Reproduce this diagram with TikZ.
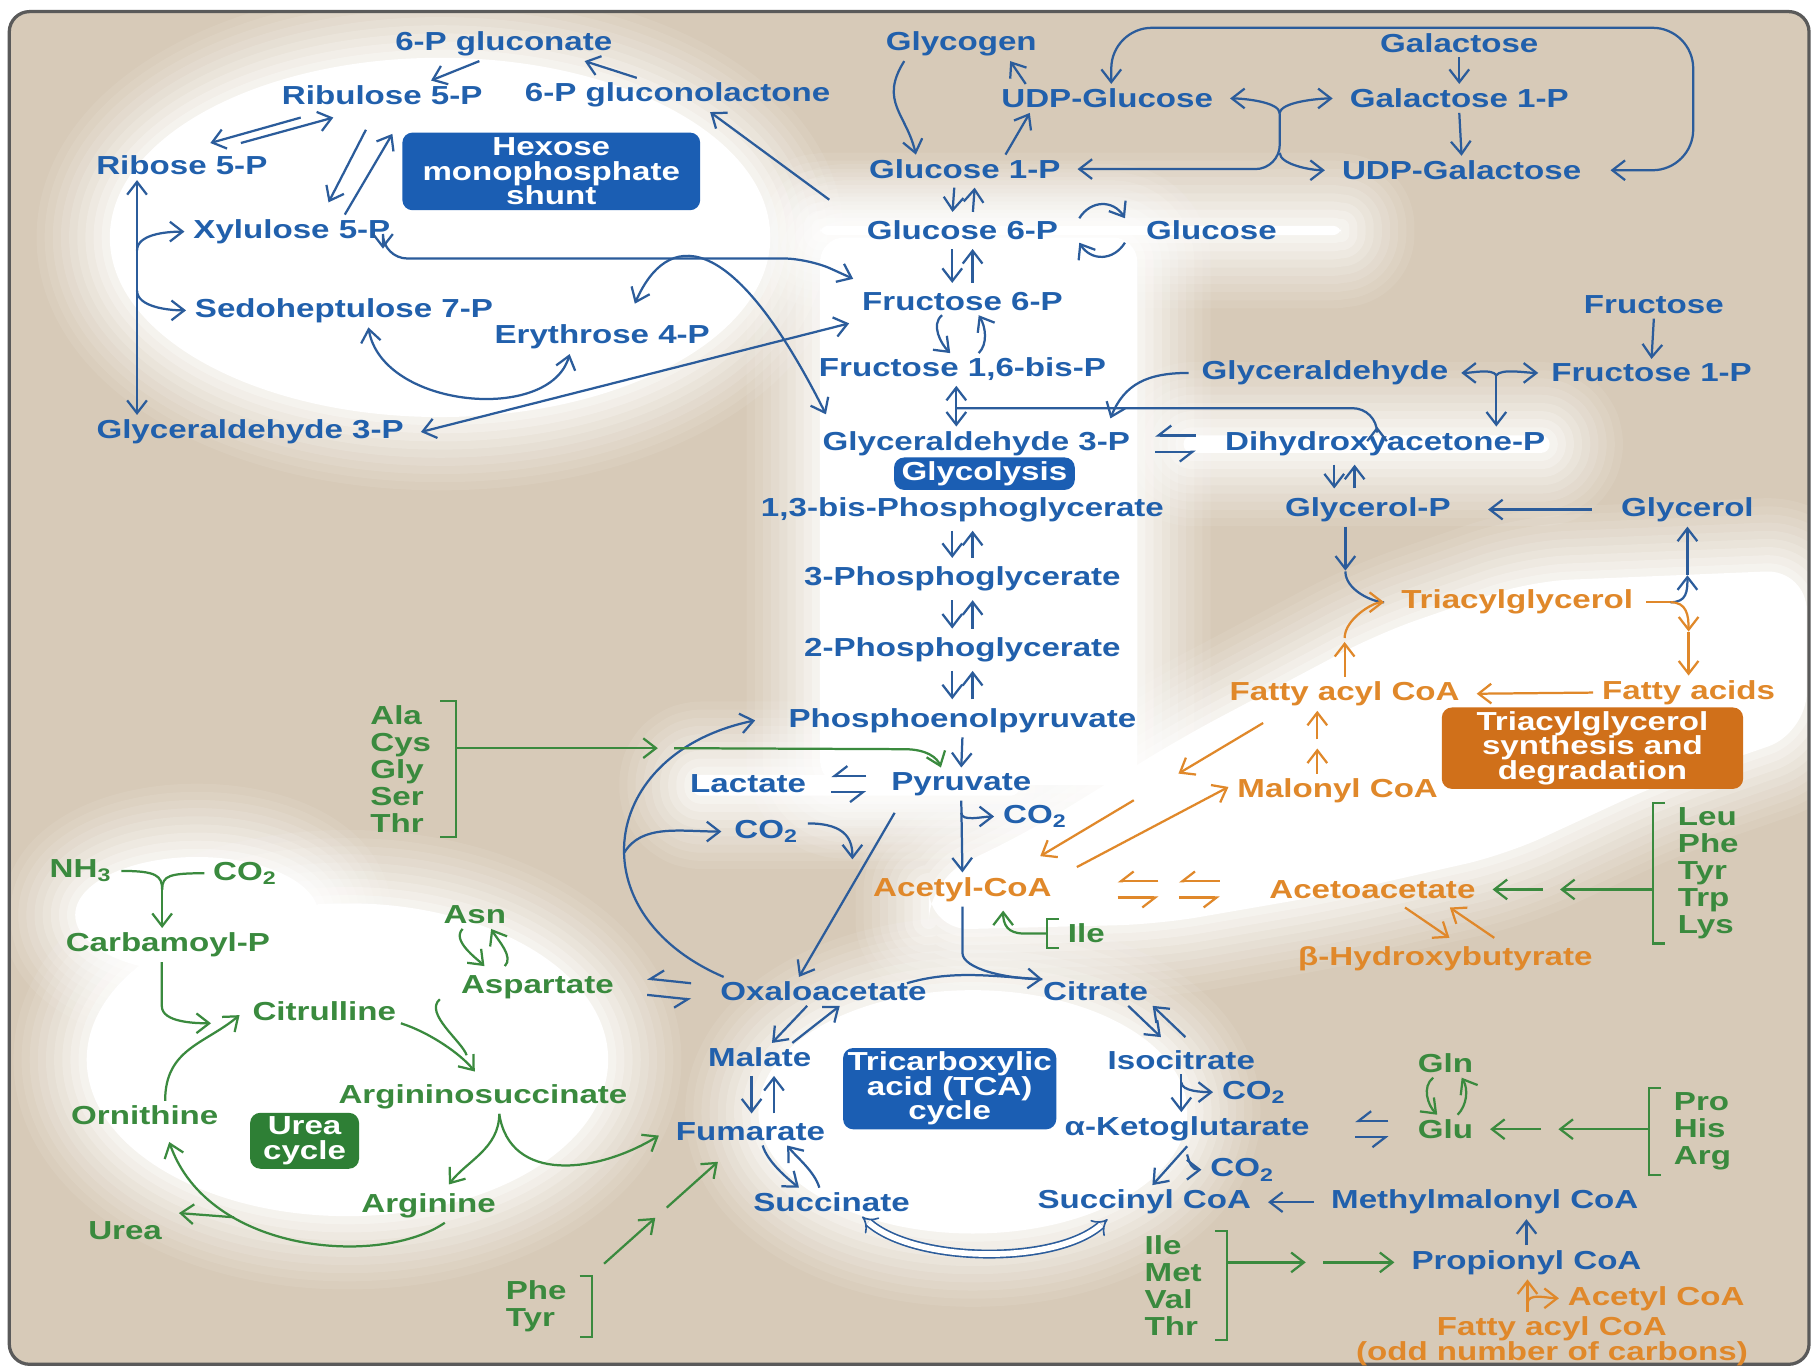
\documentclass[tikz,border=0pt]{standalone}
\usepackage{fontspec}
\usepackage{tikz}
\usetikzlibrary{positioning,arrows.meta,calc}
\newfontfamily\mapfont[FakeStretch=1.27]{Liberation Sans}
\newcommand\mapfnt{\mapfont\bfseries\fontsize{6.4}{6.6}\selectfont}
\newcommand\boxfnt{\mapfont\bfseries\fontsize{6.4}{6.0}\selectfont}
\definecolor{maptan}{HTML}{D7CAB8}
\definecolor{mapframe}{HTML}{5A5A5A}
\definecolor{mapblue}{HTML}{2160AC}
\definecolor{mapline}{HTML}{2B5C9B}
\definecolor{maporange}{HTML}{E0882A}
\definecolor{mapgreen}{HTML}{3A8A3E}
\definecolor{boxblue}{HTML}{1B5EB3}
\definecolor{boxorange}{HTML}{D0701A}
\definecolor{boxgreen}{HTML}{2E7F35}

\begin{document}
\begin{tikzpicture}[x=0.01cm,y=-0.01cm,
  >={Straight Barb[length=1.1mm,width=1.7mm]},
  met/.style={font=\mapfnt,text=mapblue,inner sep=1pt},
  fat/.style={met,text=maporange},
  amino/.style={met,text=mapgreen},
  stack/.style={amino,align=left},
  pathbox/.style={font=\boxfnt,text=white,align=center,rounded corners=2.5pt,inner sep=1pt},
  bline/.style={draw=mapline,line width=.55pt},
  arr/.style={bline,->},
  dbl/.style={bline,<->},
  pair/.style={arr,shorten <=1pt,shorten >=1pt},
  harp/.style={bline,-{Straight Barb[harpoon,swap,length=1.1mm,width=1.7mm]}},
  oline/.style={draw=maporange,line width=.55pt},
  oarr/.style={oline,->},
  oharp/.style={oline,-{Straight Barb[harpoon,swap,length=1.1mm,width=1.7mm]}},
  gline/.style={draw=mapgreen,line width=.55pt},
  garr/.style={gline,->},
  dblarr/.style={draw=mapline,line width=.4pt,double=white,double distance=1.4pt,{Implies}-{Implies}},
  glow/.style={fill=white,
    preaction={draw=white,opacity=.08,line width=36pt,line join=round},
    preaction={draw=white,opacity=.09,line width=32pt,line join=round},
    preaction={draw=white,opacity=.1,line width=28pt,line join=round},
    preaction={draw=white,opacity=.12,line width=24pt,line join=round},
    preaction={draw=white,opacity=.14,line width=20pt,line join=round},
    preaction={draw=white,opacity=.16,line width=16pt,line join=round},
    preaction={draw=white,opacity=.2,line width=12pt,line join=round},
    preaction={draw=white,opacity=.25,line width=8pt,line join=round},
    preaction={draw=white,opacity=.3,line width=4pt,line join=round}}
]
\fill[white] (0,0) rectangle (1568,1182);
\useasboundingbox (0,0) rectangle (1568,1182);
\fill[maptan,rounded corners=5pt] (8,10) rectangle (1562,1178);
\begin{scope}
\clip[rounded corners=5pt] (8,10) rectangle (1562,1178);
\path[glow] (380,205) ellipse (2.85cm and 1.55cm);
\path[glow] (300,915) ellipse (2.25cm and 1.35cm);
\path[glow] (170,790) ellipse (1.05cm and .5cm);
\path[glow] (840,960) ellipse (1.85cm and 1.05cm);
\path[glow,rounded corners=6pt] (708,205) rectangle (982,678);
\path[glow,rounded corners=2pt] (708,195) rectangle (1158,203);
\path[glow,rounded corners=2pt] (1022,376) rectangle (1338,391);
\path[glow,rounded corners=2pt] (598,669) rectangle (880,687);
\path[glow,rounded corners=10pt] (802,760) -- (890,717) -- (1020,637) -- (1190,547) -- (1320,502) -- (1560,492) -- (1560,633) -- (1430,678) -- (1300,738) -- (1150,772) -- (1000,798) -- (802,803) -- cycle;
\end{scope}
\draw[mapframe,line width=.8pt,rounded corners=5pt] (8,10) rectangle (1562,1178);

\node[met] (pgn) at (435,38) {6-P gluconate};
\node[met] (ru5p) at (330,82) {Ribulose 5-P};
\node[met] (pgl) at (585,82) {6-P gluconolactone};
\node[met] (r5p) at (157,143) {Ribose 5-P};
\node[pathbox,fill=boxblue,minimum width=2.57cm,minimum height=.67cm] (hmp) at (476,148) {Hexose\\monophosphate\\shunt};
\node[met] (x5p) at (252,200) {Xylulose 5-P};
\node[met] (s7p) at (297,268) {Sedoheptulose 7-P};
\node[met] (e4p) at (520,291) {Erythrose 4-P};
\node[met] (gapl) at (216,373) {Glyceraldehyde 3-P};

\node[met] (glyg) at (830,38) {Glycogen};
\node[met] (udpglc) at (956,85) {UDP-Glucose};
\node[met] (gal) at (1260,37) {Galactose};
\node[met] (gal1p) at (1260,85) {Galactose 1-P};
\node[met] (g1p) at (833,146) {Glucose 1-P};
\node[met] (udpgal) at (1262,147) {UDP-Galactose};
\node[met] (g6p) at (831,199) {Glucose 6-P};
\node[met] (glc) at (1046,199) {Glucose};
\node[met] (f6p) at (831,260) {Fructose 6-P};
\node[met] (fbp) at (831,319) {Fructose 1,6-bis-P};
\node[met] (glyald) at (1144,322) {Glyceraldehyde};
\node[met] (fru) at (1428,263) {Fructose};
\node[met] (f1p) at (1426,322) {Fructose 1-P};
\node[met] (gap) at (843,383) {Glyceraldehyde 3-P};
\node[met] (dhap) at (1196,383) {Dihydroxyacetone-P};
\node[pathbox,fill=boxblue,minimum width=1.56cm,minimum height=.25cm] (glyc) at (850,409) {Glycolysis};
\node[met] (bpg) at (831,440) {1,3-bis-Phosphoglycerate};
\node[met] (pg3) at (831,500) {3-Phosphoglycerate};
\node[met] (pg2) at (831,561) {2-Phosphoglycerate};
\node[met] (pep) at (831,622) {Phosphoenolpyruvate};
\node[met] (lac) at (646,677) {Lactate};
\node[met] (pyr) at (830,677) {Pyruvate};
\node[met] (coa) at (894,705) {CO\textsubscript{2}};
\node[met] (cob) at (662,718) {CO\textsubscript{2}};
\node[fat] (acoa) at (831,768) {Acetyl-CoA};
\node[met] (g3p) at (1181,440) {Glycerol-P};
\node[met] (glyl) at (1457,440) {Glycerol};
\node[fat] (tag) at (1310,520) {Triacylglycerol};
\node[fat] (facoa) at (1161,599) {Fatty acyl CoA};
\node[fat] (fa) at (1458,598) {Fatty acids};
\node[pathbox,fill=boxorange,minimum width=2.6cm,minimum height=.63cm] (tagbox) at (1375,646) {Triacylglycerol\\synthesis and\\degradation};
\node[fat] (mcoa) at (1155,683) {Malonyl CoA};
\node[fat] (acac) at (1185,768) {Acetoacetate};
\node[fat] (bhb) at (1248,828) {β-Hydroxybutyrate};
\node[stack] (ketaa) at (1475,754) {Leu\\Phe\\Tyr\\Trp\\Lys};
\node[amino] (ile) at (938,806) {Ile};
\node[stack] (glyaa) at (346,664) {Ala\\Cys\\Gly\\Ser\\Thr};

\node[amino] (nh3) at (70,752) {NH\textsubscript{3}};
\node[amino] (coc) at (212,754) {CO\textsubscript{2}};
\node[amino] (cbp) at (145,816) {Carbamoyl-P};
\node[amino] (asn) at (410,790) {Asn};
\node[amino] (asp) at (464,852) {Aspartate};
\node[met] (oaa) at (711,856) {Oxaloacetate};
\node[met] (cit) at (946,856) {Citrate};
\node[amino] (citr) at (280,873) {Citrulline};
\node[met] (mal) at (656,913) {Malate};
\node[pathbox,fill=boxblue,minimum width=1.84cm,minimum height=.65cm] (tca) at (820,940) {Tricarboxylic\\acid (TCA)\\cycle};
\node[met] (icit) at (1020,915) {Isocitrate};
\node[amino] (argsuc) at (417,947) {Argininosuccinate};
\node[amino] (gln) at (1248,918) {Gln};
\node[amino] (orn) at (125,963) {Ornithine};
\node[pathbox,fill=boxgreen,minimum width=.94cm,minimum height=.44cm] (ureabox) at (263,985) {Urea\\cycle};
\node[met] (fum) at (648,977) {Fumarate};
\node[met] (akg) at (1025,975) {α-Ketoglutarate};
\node[amino] (glu) at (1248,975) {Glu};
\node[stack] (gluaa) at (1470,977) {Pro\\His\\Arg};
\node[met] (cod) at (1083,943) {CO\textsubscript{2}};
\node[met] (coe) at (1073,1010) {CO\textsubscript{2}};
\node[met] (suc) at (718,1038) {Succinate};
\node[met] (scoa) at (988,1038) {Succinyl CoA};
\node[met] (mmcoa) at (1282,1038) {Methylmalonyl CoA};
\node[amino] (arg) at (370,1041) {Arginine};
\node[amino] (urea) at (108,1063) {Urea};
\node[stack] (propaa) at (1013,1110) {Ile\\Met\\Val\\Thr};
\node[met] (pcoa) at (1318,1090) {Propionyl CoA};
\node[fat] (acoab) at (1430,1121) {Acetyl CoA};
\node[fat,align=center,font=\boxfnt] (oddfa) at (1340,1158) {Fatty acyl CoA\\(odd number of carbons)};
\node[stack] (fumaa) at (463,1128) {Phe\\Tyr};

\coordinate (rtop) at ([xshift=-11pt]r5p.south);
\coordinate (jx) at ($(rtop)!.3!(rtop |- gapl.north)$);
\coordinate (js) at ($(rtop)!.47!(rtop |- gapl.north)$);
\coordinate (fj) at (1105,98);
\coordinate (lp) at (1462,24);
\coordinate (fq) at (1292,324);
\coordinate (aajn) at (568,646);
\coordinate (coend) at (736,742);
\coordinate (cj) at (140,768);

\draw[arr] ([xshift=-6pt]pgn.south) -- ([xshift=12pt]ru5p.north);
\draw[arr] ([xshift=-10pt]pgl.north) -- ([xshift=-8pt]pgn.south east);
\draw[arr] ([xshift=-8pt,yshift=4pt]g6p.north west) -- ([xshift=8pt]pgl.south);
\draw[arr] ([xshift=-20pt,yshift=-2pt]ru5p.south) -- ([xshift=7pt,yshift=2pt]r5p.north);
\draw[arr] ([xshift=14.5pt,yshift=2pt]r5p.north) -- ([xshift=-12pt,yshift=-2pt]ru5p.south);
\draw[arr] ([xshift=-4pt,yshift=-5pt]ru5p.south) -- ([xshift=9pt,yshift=3pt]x5p.north);
\draw[arr] ([xshift=13pt]x5p.north) -- ([xshift=2.5pt,yshift=-6pt]ru5p.south);
\draw[dbl] (rtop) -- (rtop |- gapl.north);
\draw[arr] (jx) .. controls +(0,-14) and +(-16,0) .. ([xshift=-1pt]x5p.west);
\draw[arr] (js) .. controls +(0,14) and +(-16,0) .. ([xshift=-1pt]s7p.west);
\draw[dbl,rounded corners=6pt] ([xshift=-3pt]x5p.south east) |- ([xshift=-12pt,yshift=7pt]f6p.north west) -- ([xshift=-1pt,yshift=2pt]f6p.north west);
\draw[dbl] ([xshift=8pt,yshift=4pt]e4p.north) .. controls +(27,-62) and +(-83,-165) .. ([xshift=2pt,yshift=3pt]gap.north west);
\draw[dbl] ([xshift=6pt]s7p.south) .. controls +(12,70) and +(-17,60) .. ([xshift=-8pt]e4p.south);
\draw[dbl] ([xshift=-2pt,yshift=-2pt]f6p.south west) -- ([xshift=3pt]gapl.east);

\draw[arr] ([xshift=-14pt]glyg.south) .. controls +(-22,35) and +(-8,-35) .. ([xshift=-12pt]g1p.north);
\draw[arr] ([xshift=10pt]g1p.north) -- ([xshift=-19pt]udpglc.south);
\draw[arr] ([xshift=-20pt]udpglc.north) -- ([xshift=12pt]glyg.south);
\draw[arr] (fj) .. controls +(0,-10) and +(12,0) .. ([xshift=3pt]udpglc.east);
\draw[arr] (fj) .. controls +(0,-10) and +(-12,0) .. ([xshift=-3pt]gal1p.west);
\draw[arr,rounded corners=6pt] (fj) |- ([xshift=3pt]g1p.east);
\draw[arr] (fj) ++(0,34) .. controls +(0,10) and +(-12,0) .. ([xshift=-3pt]udpgal.west);
\draw[arr] (gal.south) -- (gal1p.north);
\draw[arr] (gal1p.south) -- (udpgal.north);
\draw[dbl,rounded corners=10pt] ([xshift=6pt]udpgal.east) -| (lp) -| ([xshift=1pt]udpglc.north);
\draw[pair] ([xshift=-2.5pt]g1p.south) -- ([xshift=-2.5pt]g6p.north);
\draw[pair] ([xshift=2.5pt]g6p.north) -- ([xshift=2.5pt]g1p.south);
\draw[arr] ([xshift=4pt,yshift=3pt]g6p.east) .. controls +(10,-16) and +(-10,-16) .. ([xshift=-4pt,yshift=3pt]glc.west);
\draw[arr] ([xshift=-4pt,yshift=-3pt]glc.west) .. controls +(-10,16) and +(10,16) .. ([xshift=4pt,yshift=-3pt]g6p.east);
\draw[pair] ([xshift=-2.5pt]g6p.south) -- ([xshift=-2.5pt]f6p.north);
\draw[pair] ([xshift=2.5pt]f6p.north) -- ([xshift=2.5pt]g6p.south);
\draw[arr] ([xshift=-5pt]f6p.south) .. controls +(-10,8) and +(-8,-8) .. ([xshift=-3pt]fbp.north);
\draw[arr] ([xshift=4pt]fbp.north) .. controls +(8,-8) and +(6,10) .. ([xshift=4pt]f6p.south);
\draw[dbl] ([xshift=-1.5pt]fbp.south) -- ([xshift=-1.5pt]fbp.south |- gap.north);
\draw[arr,rounded corners=6pt] ([xshift=-1.5pt,yshift=-5.5pt]fbp.south) -| ([xshift=-2pt]dhap.north);
\draw[arr] ([xshift=-2pt]glyald.west) .. controls +(-35,0) and +(12,-30) .. ([xshift=-6pt,yshift=2pt]gap.north east);
\draw[arr] (fq) .. controls +(-4,-6) and +(10,0) .. ([xshift=2pt]glyald.east);
\draw[arr] (fq) .. controls +(4,-6) and +(-10,0) .. ([xshift=-2pt]f1p.west);
\draw[arr] (fq) -- (fq |- dhap.north);
\draw[arr] (fru.south) -- (f1p.north);
\draw[harp] ([xshift=-6pt,yshift=2pt]dhap.west) -- ([xshift=5pt,yshift=2pt]gap.east);
\draw[harp] ([xshift=5pt,yshift=-2pt]gap.east) -- ([xshift=-6pt,yshift=-2pt]dhap.west);

\draw[pair] ([xshift=-2.5pt]bpg.south) -- ([xshift=-2.5pt]pg3.north);
\draw[pair] ([xshift=2.5pt]pg3.north) -- ([xshift=2.5pt]bpg.south);
\draw[pair] ([xshift=-2.5pt]pg3.south) -- ([xshift=-2.5pt]pg2.north);
\draw[pair] ([xshift=2.5pt]pg2.north) -- ([xshift=2.5pt]pg3.south);
\draw[pair] ([xshift=-2.5pt]pg2.south) -- ([xshift=-2.5pt]pep.north);
\draw[pair] ([xshift=2.5pt]pep.north) -- ([xshift=2.5pt]pg2.south);
\draw[arr] (pep.south) -- (pyr.north);
\draw[harp] ([xshift=-5pt,yshift=2pt]pyr.west) -- ([xshift=5pt,yshift=2pt]lac.east);
\draw[harp] ([xshift=5pt,yshift=-2pt]lac.east) -- ([xshift=-5pt,yshift=-2pt]pyr.west);
\draw[arr] (pyr.south) -- (acoa.north);
\draw[arr] ([yshift=-3pt]pyr.south) .. controls +(0,8) and +(-10,0) .. ([xshift=-1pt]coa.west);
\draw[arr] ([xshift=2pt,yshift=-3pt]pyr.south west) -- ([xshift=-6pt]oaa.north);
\draw[arr] ([xshift=2pt]oaa.north west) .. controls +(-128,-55) and +(-135,28) .. coordinate[pos=.45] (jco) ([xshift=-7pt]pep.west);
\draw[arr] (jco) .. controls +(15,-25) and +(-35,0) .. ([xshift=-2pt]cob.west);
\draw[arr] ([xshift=1pt,yshift=2pt]cob.east) .. controls +(35,0) and +(0,-15) .. (coend);
\draw[gline] ([xshift=1pt]glyaa.north east) -| ([xshift=5pt]glyaa.south east) -- ([xshift=1pt]glyaa.south east);
\draw[garr] ([xshift=5pt]glyaa.east |- aajn) -- (aajn);
\draw[garr] ([xshift=4pt]aajn) -- ([xshift=-14pt,yshift=4.5pt]pyr.north) .. controls +(20,0) and +(-3,-8) .. ([xshift=-5pt]pyr.north);

\draw[bline] (acoa.south) -- ++(0,40) .. controls +(0,14) and +(-30,0) .. ([xshift=1pt,yshift=3pt]cit.west);
\draw[arr] ([xshift=-6pt,yshift=2pt]oaa.east) .. controls +(40,-12) and +(-40,-2) .. ([xshift=1pt,yshift=3pt]cit.west);
\draw[gline] ([xshift=-1pt]ile.north west) -| ([xshift=-4pt]ile.south west) -- ([xshift=-1pt]ile.south west);
\draw[garr] ([xshift=-4pt]ile.west) -- ++(-20,0) .. controls +(-14,0) and +(0,12) .. ([xshift=10pt,yshift=-1pt]acoa.south);
\draw[oharp] ([xshift=25pt,yshift=2pt]acoa.east) -- ([xshift=15pt,yshift=2pt]acoa.east);
\draw[oharp] ([xshift=15pt,yshift=-2pt]acoa.east) -- ([xshift=25pt,yshift=-2pt]acoa.east);
\draw[oharp] ([xshift=-11pt,yshift=2pt]acac.west) -- ([xshift=-21pt,yshift=2pt]acac.west);
\draw[oharp] ([xshift=-21pt,yshift=-2pt]acac.west) -- ([xshift=-11pt,yshift=-2pt]acac.west);
\coordinate (fs) at ([xshift=-20pt,yshift=-3pt]facoa.south);
\coordinate (fe) at ([xshift=-4pt,yshift=4pt]acoa.north east);
\draw[oarr] (fs) -- ($(fs)!.38!(fe)$);
\draw[oarr] ($(fs)!.58!(fe)$) -- (fe);
\draw[oarr] ([xshift=5pt,yshift=5.5pt]acoa.east) -- ([xshift=-1pt,yshift=1pt]mcoa.west);
\draw[oarr] ([xshift=-5pt]mcoa.north) -- ++(0,-22);
\draw[oarr] ([xshift=-5pt,yshift=8.5pt]mcoa.north) -- ([xshift=-5pt]mcoa.north |- facoa.south);
\draw[oarr] ([xshift=-1pt]fa.west) -- ([xshift=3pt]facoa.east);

\draw[arr] ([xshift=-5.5pt]g3p.south) -- ++(0,38);
\draw[bline] ([xshift=-5.5pt,yshift=-11pt]g3p.south) .. controls +(0,16) and +(-10,0) .. ([xshift=-3pt]tag.west);
\draw[oarr] (facoa.north) -- ++(0,-30);
\draw[oarr] ([yshift=9.5pt]facoa.north) .. controls +(0,-16) and +(-10,0) .. ([xshift=-3pt]tag.west);
\coordinate (tj) at ([xshift=8pt]tag.east);
\coordinate (tup) at ($(glyl.south)+(0,42)$);
\coordinate (tdn) at ($(fa.north)+(0,-38)$);
\draw[oline] ([xshift=2pt]tag.east) -- (tj);
\draw[arr] (tj) .. controls +(14,0) and +(0,14) .. (tup);
\draw[arr] (tup) -- (glyl.south);
\draw[oarr] (tj) .. controls +(14,0) and +(0,-14) .. (tdn);
\draw[oarr] (tdn) -- (fa.north);
\draw[arr] ([xshift=-6pt]glyl.west) -- ([xshift=8pt]g3p.east);
\draw[pair] ([xshift=-12.5pt]dhap.south) -- ([xshift=-12.5pt]dhap.south |- g3p.north);
\draw[pair] ([xshift=-7.5pt]dhap.south |- g3p.north) -- ([xshift=-7.5pt]dhap.south);
\draw[gline] ([xshift=-2pt]ketaa.north west) -| ([xshift=-5pt]ketaa.south west) -- ([xshift=-2pt]ketaa.south west);
\draw[garr] ([xshift=-5pt]ketaa.west |- acac.east) -- ++(-80,0);
\draw[garr] ([xshift=-5pt]ketaa.west |- acac.east) ++(-95,0) -- ([xshift=3pt]acac.east);
\draw[oarr] ([xshift=8pt,yshift=-1pt]acac.south) -- ([xshift=1pt,yshift=1pt]bhb.north);
\draw[oarr] ([xshift=12pt,yshift=1pt]bhb.north) -- ([xshift=19pt,yshift=-1pt]acac.south);

\draw[arr] ([xshift=-4pt]oaa.south) -- ([xshift=3pt]mal.north);
\draw[arr] ([xshift=8pt]mal.north) -- ([xshift=4pt]oaa.south);
\draw[pair] ([xshift=-2pt]mal.south) -- ([xshift=-2pt]mal.south |- fum.north);
\draw[pair] ([xshift=3.5pt]mal.south |- fum.north) -- ([xshift=3.5pt]mal.south);
\draw[arr] ([xshift=3pt]fum.south) .. controls +(4,14) and +(-10,-8) .. ([xshift=-8pt]suc.north);
\draw[arr] ([xshift=-3pt]suc.north) .. controls +(-4,-14) and +(8,10) .. ([xshift=9pt]fum.south);
\draw[dblarr] ([xshift=-9pt]scoa.south) .. controls +(-45,40) and +(45,40) .. ([xshift=7.5pt]suc.south);
\draw[arr] ([xshift=8pt]cit.south) -- ([xshift=-5pt,yshift=2pt]icit.north);
\draw[arr] ([xshift=1pt,yshift=2pt]icit.north) -- ([xshift=14pt]cit.south);
\draw[arr] (icit.south) -- (icit.south |- akg.north);
\draw[arr] ([yshift=-2pt]icit.south) .. controls +(0,8) and +(-8,0) .. ([xshift=-1pt]cod.west);
\draw[arr] (akg.south) -- ([xshift=2pt]scoa.north);
\draw[arr] ([yshift=-2pt]akg.south) .. controls +(2,8) and +(-8,0) .. ([xshift=-1pt]coe.west);
\draw[harp] ([xshift=-6pt,yshift=2pt]glu.west) -- ([xshift=10pt,yshift=2pt]akg.east);
\draw[harp] ([xshift=10pt,yshift=-2pt]akg.east) -- ([xshift=-6pt,yshift=-2pt]glu.west);
\draw[garr] ([xshift=-3pt]gln.south) .. controls +(-10,8) and +(-8,-8) .. ([xshift=-2pt]glu.north);
\draw[garr] ([xshift=3pt]glu.north) .. controls +(8,-8) and +(6,10) .. ([xshift=4pt]gln.south);
\draw[gline] ([xshift=-2pt]gluaa.north west) -| ([xshift=-5pt]gluaa.south west) -- ([xshift=-2pt]gluaa.south west);
\draw[garr] ([xshift=-5pt]gluaa.west |- glu.east) -- ++(-78,0);
\draw[garr] ([xshift=-5pt]gluaa.west |- glu.east) ++(-93,0) -- ([xshift=3pt]glu.east);
\draw[arr] ([xshift=-3pt]mmcoa.west) -- ([xshift=3pt]scoa.east);
\draw[arr] (pcoa.north) -- (pcoa.north |- mmcoa.south);
\draw[gline] ([xshift=2pt]propaa.north east) -| ([xshift=5pt]propaa.south east) -- ([xshift=2pt]propaa.south east);
\draw[garr] ([xshift=5pt]propaa.east |- pcoa.west) -- ++(68,0);
\draw[garr] ([xshift=5pt]propaa.east |- pcoa.west) ++(83,0) -- ([xshift=-3pt]pcoa.west);
\draw[oarr] ([xshift=-6pt]oddfa.north) -- ([xshift=-6pt]oddfa.north |- pcoa.south);
\draw[oarr] ([xshift=-6pt,yshift=2pt]oddfa.north) .. controls +(0,-10) and +(-10,0) .. ([xshift=-1pt]acoab.west);

\draw[gline] ([xshift=1pt]nh3.east) .. controls +(30,0) and +(0,-12) .. (cj);
\draw[gline] ([xshift=-1pt]coc.west) .. controls +(-30,0) and +(0,-12) .. (cj);
\draw[garr] (cj) -- (cj |- cbp.north);
\draw[garr] ([xshift=-1.5pt]cbp.south) -- ++(0,38) .. controls +(0,14) and +(-14,0) .. ([xshift=-9pt,yshift=-3pt]citr.west);
\draw[garr] ([xshift=5pt]orn.north) .. controls +(0,-45) and +(-30,25) .. ([xshift=-2pt,yshift=-1pt]citr.west);
\draw[garr] ([yshift=-3pt]citr.east) .. controls +(25,8) and +(-12,-15) .. ([xshift=-2pt,yshift=2pt]argsuc.north);
\draw[gline] ([xshift=-4pt,yshift=1pt]asp.south west) .. controls +(-14,12) and +(-4,-12) .. ([xshift=-4pt,yshift=6pt]argsuc.north);
\draw[garr] ([xshift=4pt]argsuc.south) .. controls +(0,30) and +(15,-20) .. ([xshift=5pt,yshift=1pt]arg.north);
\draw[garr] ([xshift=4pt]argsuc.south) .. controls +(9,60) and +(-54,33) .. ([xshift=-3pt,yshift=-1pt]fum.west);
\draw[garr] ([xshift=4pt]arg.south) .. controls +(-55,38) and +(34,97) .. coordinate[pos=.7] (ub) ([xshift=6pt,yshift=-3pt]orn.south);
\draw[garr] (ub) -- ([xshift=3pt,yshift=1pt]urea.north east);
\draw[garr] ([xshift=-3pt]asn.south) .. controls +(-10,10) and +(-6,-6) .. ([xshift=-13pt,yshift=1pt]asp.north);
\draw[garr] ([xshift=-8pt,yshift=1pt]asp.north) .. controls +(8,-8) and +(6,10) .. ([xshift=4pt]asn.south);
\draw[harp] ([xshift=-6pt,yshift=2pt]oaa.west) -- ([xshift=7pt,yshift=2pt]asp.east);
\draw[harp] ([xshift=7pt,yshift=-2pt]asp.east) -- ([xshift=-6pt,yshift=-2pt]oaa.west);
\draw[gline] ([xshift=2pt]fumaa.north east) -| ([xshift=5pt]fumaa.south east) -- ([xshift=2pt]fumaa.south east);
\coordinate (ps) at ([xshift=8pt,yshift=3pt]fumaa.north east);
\coordinate (pe) at ([xshift=-8pt,yshift=-4pt]fum.south);
\draw[garr] (ps) -- ($(ps)!.45!(pe)$);
\draw[garr] ($(ps)!.55!(pe)$) -- (pe);
\end{tikzpicture}
\end{document}
